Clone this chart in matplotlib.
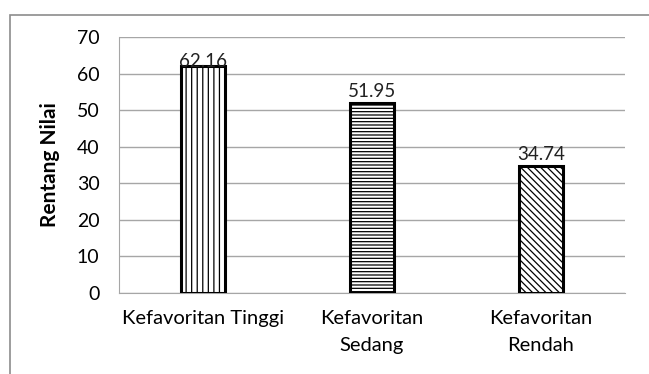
import matplotlib.pyplot as plt
from matplotlib.patches import Rectangle

categories = ['Kefavoritan Tinggi', 'Kefavoritan\nSedang', 'Kefavoritan\nRendah']
values = [62.16, 51.95, 34.74]
hatches = ['|||', '-----', '\\\\\\\\\\']

plt.rcParams['font.family'] = ['Lato', 'DejaVu Sans']
plt.rcParams['hatch.linewidth'] = 0.9

fig = plt.figure(figsize=(6.49, 3.74), dpi=100)
ax = fig.add_axes([0.1834, 0.2166, 0.7796, 0.6845])

# outer frame like the exported chart box
fig.patches.append(Rectangle((10 / 649, -0.05), 0.99, 1 - 15 / 374 + 0.05,
                             transform=fig.transFigure, fill=False,
                             edgecolor='#8c8c8c', lw=1.2))

x = range(len(categories))
bars = ax.bar(x, values, width=0.26, color='white', edgecolor='black', lw=2.2, zorder=3)
for b, h in zip(bars, hatches):
    b.set_hatch(h)

for i, v in enumerate(values):
    off = -3 if i == 0 else 2
    ax.annotate(f'{v:.2f}', (i, v), xytext=(0, off), textcoords='offset points',
                ha='center', va='bottom', fontsize=13.5, color='#222222', zorder=4)

ax.set_xlim(-0.5, 2.5)
ax.set_ylim(0, 70)
ax.set_yticks(range(0, 71, 10))
ax.yaxis.grid(True, color='#a6a6a6', lw=1)
ax.set_axisbelow(True)
for s in ['top', 'right']:
    ax.spines[s].set_visible(False)
ax.spines['left'].set_color('#a6a6a6')
ax.spines['bottom'].set_color('#a6a6a6')
ax.tick_params(axis='y', length=0, pad=14, labelsize=14)
ax.tick_params(axis='x', length=0, pad=12, labelsize=14.5)
ax.set_xticks(list(x))
ax.set_xticklabels(categories, linespacing=1.75)
ax.set_ylabel('Rentang Nilai', fontsize=15, fontweight='bold', labelpad=12)

fig.savefig('out.png', dpi=100)
